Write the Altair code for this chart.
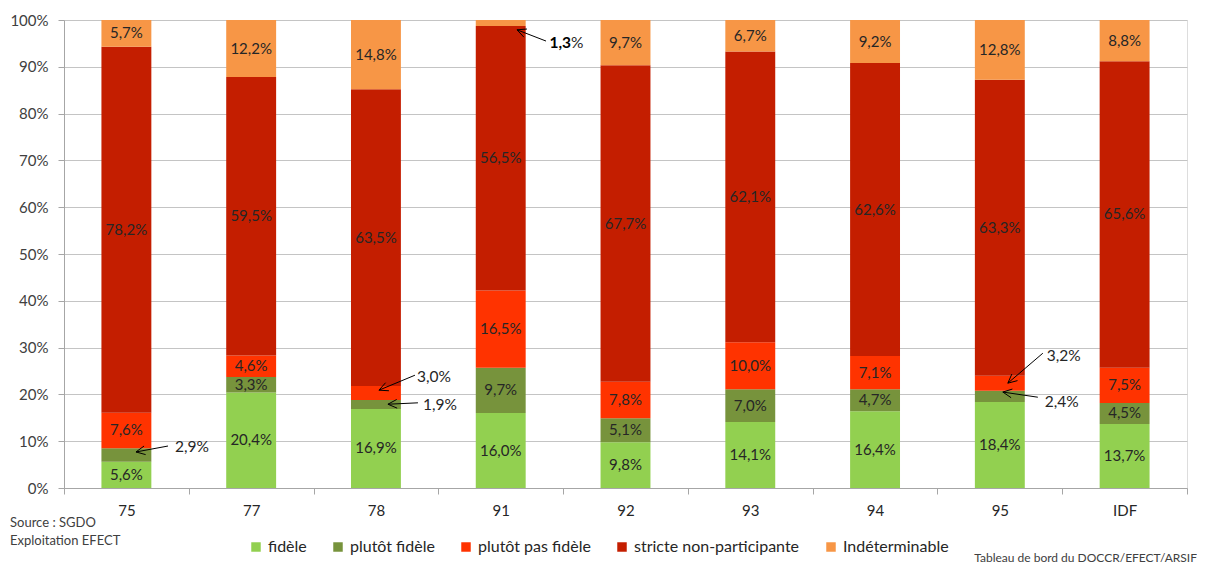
import math
import altair as alt
import pandas as pd

# ---- data ----
categories = ["75", "77", "78", "91", "92", "93", "94", "95", "IDF"]
series = ["fidèle", "plutôt fidèle", "plutôt pas fidèle", "stricte non-participante", "Indéterminable"]
fidele = [5.6, 20.4, 16.9, 16.0, 9.8, 14.1, 16.4, 18.4, 13.7]
plutot_fidele = [2.9, 3.3, 1.9, 9.7, 5.1, 7.0, 4.7, 2.4, 4.5]
plutot_pas_fidele = [7.6, 4.6, 3.0, 16.5, 7.8, 10.0, 7.1, 3.2, 7.5]
stricte = [78.2, 59.5, 63.5, 56.5, 67.7, 62.1, 62.6, 63.3, 65.6]
indeterminable = [5.7, 12.2, 14.8, 1.3, 9.7, 6.7, 9.2, 12.8, 8.8]
colors = ["#92D050", "#77933C", "#FF3300", "#C41E00", "#F79646"]

# labels drawn outside the bar with an arrow: (category, series)
outside = {("75", "plutôt fidèle"), ("78", "plutôt fidèle"), ("78", "plutôt pas fidèle"),
           ("91", "Indéterminable"), ("95", "plutôt fidèle"), ("95", "plutôt pas fidèle")}

# annotation layout: category, bold part, plain part, label dx(px), label y(%), line start dx(px), y(%), tip dx(px), y(%)
annotations = [
    ("75", "", "2,9%", 48.6, 8.76, 41.6, 8.97, 9.6, 7.7),
    ("78", "", "3,0%", 41.0, 23.7, 39.0, 24.1, 3.0, 20.9),
    ("78", "", "1,9%", 47.0, 17.7, 42.0, 18.2, 12.0, 17.9),
    ("91", "1,3", "%", 49.3, 95.1, 45.3, 95.5, 16.3, 97.9),
    ("95", "", "3,2%", 47.0, 28.2, 43.0, 28.8, 8.0, 22.4),
    ("95", "", "2,4%", 45.0, 18.4, 38.0, 19.4, 3.0, 20.5),
]

W, H = 1123, 468
FONT = "Lato"
BAR_HALF = 0.2
px_x = W / len(categories)  # px per category unit

# ---- tables ----
values = [fidele, plutot_fidele, plutot_pas_fidele, stricte, indeterminable]
rows = []
for i, cat in enumerate(categories):
    tot = sum(v[i] for v in values)
    cum = 0.0
    for s, name in enumerate(series):
        v = values[s][i]
        y0 = cum / tot
        cum += v
        y1 = cum / tot
        lab = "" if (cat, name) in outside else f"{v:.1f}".replace(".", ",") + "%"
        rows.append(dict(cat=cat, idx=i, series=name, order=s, value=v,
                         x0=i - BAR_HALF, x1=i + BAR_HALF, y0=y0, y1=y1,
                         ymid=(y0 + y1) / 2, label=lab))
df = pd.DataFrame(rows)

ann_lines, ann_text = [], []
for cat, bold, plain, ldx, lpy, sdx, spy, tdx, tpy in annotations:
    i = categories.index(cat)
    sx, sy = i + sdx / px_x, spy / 100
    tx, ty = i + tdx / px_x, tpy / 100
    ann_lines.append(dict(x=sx, y=sy, x2=tx, y2=ty))
    # arrowhead (open V), computed in pixel space
    dxp, dyp = sdx - tdx, (spy - tpy) / 100 * H
    ln = math.hypot(dxp, dyp)
    ux, uy = dxp / ln, dyp / ln
    for a in (0.45, -0.45):
        rx = ux * math.cos(a) - uy * math.sin(a)
        ry = ux * math.sin(a) + uy * math.cos(a)
        ann_lines.append(dict(x=tx, y=ty, x2=tx + rx * 10 / px_x, y2=ty + ry * 10 / H))
    lx = i + ldx / px_x
    if bold:
        mid = i + (ldx + 21) / px_x
        ann_text.append(dict(x=mid, y=lpy / 100, t=bold, w="bold", a="right"))
        ann_text.append(dict(x=mid, y=lpy / 100, t=plain, w="normal", a="left"))
    else:
        ann_text.append(dict(x=lx, y=lpy / 100, t=plain, w="normal", a="left"))
lines_df = pd.DataFrame(ann_lines)
text_df = pd.DataFrame(ann_text)

xscale = alt.Scale(domain=[-0.5, len(categories) - 0.5], nice=False, zero=False)
yscale = alt.Scale(domain=[0, 1], nice=False)

cat_js = "[" + ",".join(f"'{c}'" for c in categories) + "]"
xaxis = alt.Axis(
    values=[k / 2 for k in range(-1, 2 * len(categories))],
    labelExpr=f"datum.value % 1 === 0 ? {cat_js}[datum.value] : ''",
    tickOpacity={"condition": {"test": "datum.value % 1 === 0", "value": 0}, "value": 1},
    grid=False, title=None, labelOverlap=False, labelBound=False, labelFlush=False,
    tickSize=6, labelPadding=9, labelFontSize=15, labelColor="#262626",
    domainColor="#a6a6a6", tickColor="#a6a6a6", labelFont=FONT,
)
yaxis = alt.Axis(
    values=[k / 10 for k in range(11)], format=".0%", title=None,
    grid=True, gridColor="#c4c4c4", domainColor="#a6a6a6", tickColor="#a6a6a6",
    tickSize=6, labelPadding=10, labelFontSize=15, labelColor="#404040", labelFont=FONT,
)

bars = alt.Chart(df).mark_bar(stroke=None).encode(
    x=alt.X("x0:Q", scale=xscale, axis=xaxis),
    x2="x1",
    y=alt.Y("y0:Q", scale=yscale, axis=yaxis),
    y2="y1",
    color=alt.Color("series:N", scale=alt.Scale(domain=series, range=colors),
                    sort=series,
                    legend=alt.Legend(title=None, orient="none", direction="horizontal",
                                      legendX=184, legendY=519, symbolType="square",
                                      symbolSize=90, symbolStrokeWidth=0, labelFontSize=16,
                                      labelFont=FONT, labelColor="#262626", columnPadding=23,
                                      labelOffset=4, columns=5, labelLimit=400)),
    order="order:Q",
)

inner = alt.Chart(df).mark_text(fontSize=15, font=FONT, color="#262626").encode(
    x=alt.X("idx:Q", scale=xscale), y=alt.Y("ymid:Q", scale=yscale), text="label:N")

arrows = alt.Chart(lines_df).mark_rule(color="#000000", strokeWidth=1).encode(
    x=alt.X("x:Q", scale=xscale), y=alt.Y("y:Q", scale=yscale), x2="x2", y2="y2")

ann_normal = alt.Chart(text_df).transform_filter("datum.w == 'normal' && datum.a == 'left'").mark_text(
    fontSize=15.5, font=FONT, color="#262626", align="left").encode(
    x=alt.X("x:Q", scale=xscale), y=alt.Y("y:Q", scale=yscale), text="t:N")
ann_bold = alt.Chart(text_df).transform_filter("datum.w == 'bold'").mark_text(
    fontSize=15.5, font=FONT, color="#000000", align="right", fontWeight="bold").encode(
    x=alt.X("x:Q", scale=xscale), y=alt.Y("y:Q", scale=yscale), text="t:N")

notes = pd.DataFrame({"t": ["Source : SGDO", "Exploitation EFECT"]})
src1 = alt.Chart(notes).transform_filter("datum.t == 'Source : SGDO'").mark_text(
    fontSize=13, font=FONT, color="#404040", align="left").encode(
    x=alt.value(-54), y=alt.value(503), text="t:N")
src2 = alt.Chart(notes).transform_filter("datum.t == 'Exploitation EFECT'").mark_text(
    fontSize=13, font=FONT, color="#404040", align="left").encode(
    x=alt.value(-54), y=alt.value(521), text="t:N")
credit = alt.Chart(pd.DataFrame({"t": ["Tableau de bord du DOCCR/EFECT/ARSIF"]})).mark_text(
    fontSize=12, font=FONT, color="#404040", align="right").encode(
    x=alt.value(1133), y=alt.value(538), text="t:N")

chart = alt.layer(bars, inner, arrows, ann_normal, ann_bold, src1, src2, credit).properties(
    width=W, height=H,
    autosize=alt.AutoSizeParams(type="none"),
    padding={"left": 56, "top": 12, "right": 10, "bottom": 76},
).configure_view(stroke=None).configure(font=FONT)

chart.save("out.html", embed_options={"renderer": "svg", "actions": False})
